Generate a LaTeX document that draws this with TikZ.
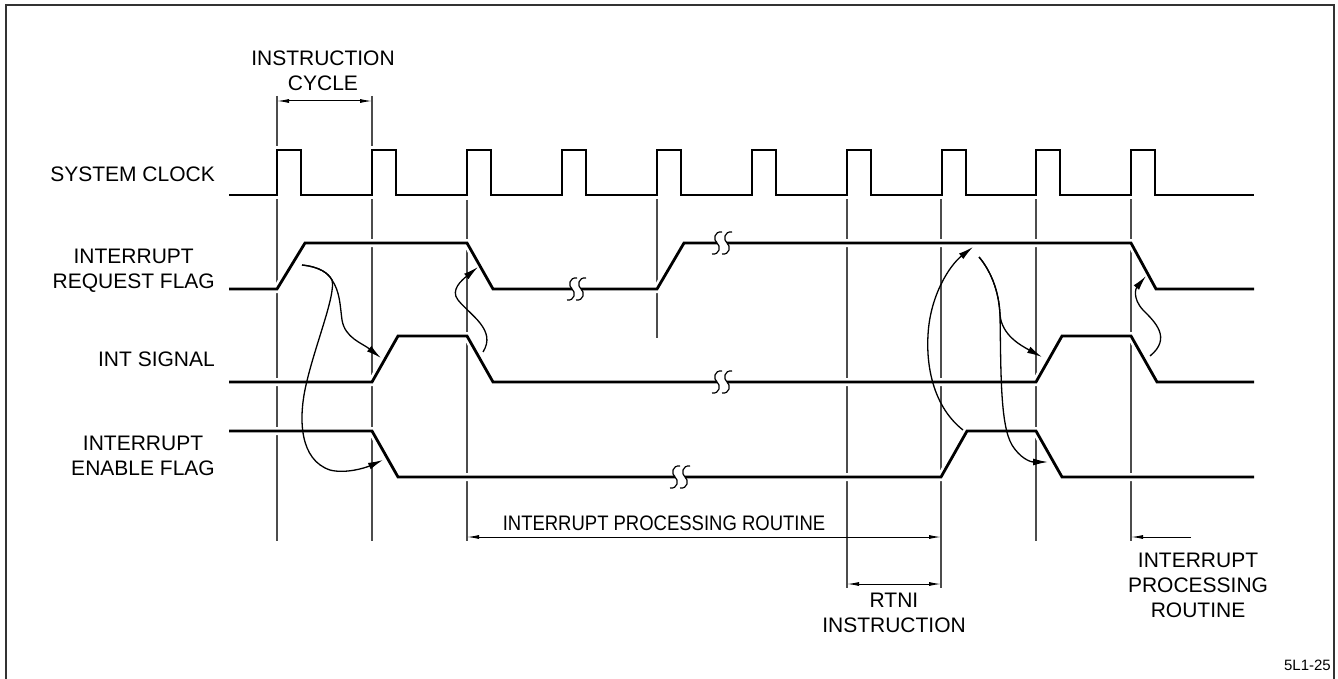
\documentclass[tikz,border=0pt]{standalone}
\usepackage{fontspec}
\setmainfont{Liberation Sans}
\newfontfamily\condfont[FakeStretch=0.88]{Liberation Sans}
\usetikzlibrary{arrows.meta}
\newcommand\sigbreak[2]{%
  \draw[brk] ({#1+5},{#2-11}) .. controls ({#1-3},{#2-12}) and ({#1-4},{#2-3}) .. (#1,#2)
     .. controls ({#1+4},{#2+3}) and ({#1+3},{#2+12}) .. ({#1-5},{#2+11});}
\begin{document}
\begin{tikzpicture}[x=1pt,y=-1pt,
  sig/.style={line width=2.8pt, line join=miter, preaction={draw=white,line width=8pt}},
  gridln/.style={line width=1.1pt, draw=black!70},
  cur/.style={line width=1.3pt, -{Latex[length=15pt,width=7pt]}},
  dim/.style={line width=1pt, {Latex[length=12pt,width=4pt]}-{Latex[length=12pt,width=4pt]}},
  dimr/.style={line width=1pt, -{Latex[length=12pt,width=4pt]}},
  lbl/.style={font=\fontsize{21}{25}\selectfont, inner sep=0pt},
  brk/.style={line width=1.2pt}]
\useasboundingbox (0,0) rectangle (1338,679);
% frame
\draw[line width=1.5pt, black!80] (6,679) -- (6,5) -- (1334,5) -- (1334,679);
% grid lines
\foreach \x/\a/\b in {277/96/541, 372/96/541, 467/200/541, 657/199/338, 847/199/588, 941/199/588, 1036/199/541, 1131/199/541}
  \draw[gridln] (\x,\a) -- (\x,\b);
% labels
\node[lbl, anchor=base east] (sc) at (215,182) {SYSTEM CLOCK};
\node[lbl, anchor=base east] (rf2) at (215,288) {REQUEST FLAG};
\node[lbl, anchor=base] (rf1) at ([yshift=25pt]rf2.base) {INTERRUPT};
\node[lbl, anchor=base east] (is) at (215,366) {INT SIGNAL};
\node[lbl, anchor=base east] (ef2) at (215,475) {ENABLE FLAG};
\node[lbl, anchor=base] (ef1) at ([yshift=25pt]ef2.base) {INTERRUPT};
\node[lbl, anchor=base] (ic2) at (323,91) {CYCLE};
\node[lbl, anchor=base] (ic1) at ([yshift=25pt]ic2.base) {INSTRUCTION};
\node[lbl, anchor=base, font=\condfont\fontsize{21}{25}\selectfont] (ipr) at (664,530) {INTERRUPT PROCESSING ROUTINE};
\node[lbl, anchor=base] (rt1) at (894,607) {RTNI};
\node[lbl, anchor=base] (rt2) at ([yshift=-25pt]rt1.base) {INSTRUCTION};
\node[lbl, anchor=base] (ir1) at (1198,567) {INTERRUPT};
\node[lbl, anchor=base] (ir2) at ([yshift=-25pt]ir1.base) {PROCESSING};
\node[lbl, anchor=base] (ir3) at ([yshift=-25pt]ir2.base) {ROUTINE};
\node[inner sep=0pt, anchor=base east, font=\fontsize{15}{17}\selectfont] (fig) at (1331,670) {5L1-25};
% system clock
\draw[sig] (229,195) foreach \r in {277,372,467,562,657,752,847,942,1036,1131} { -- (\r,195) -- (\r,150) -- ({\r+24},150) -- ({\r+24},195) } -- (1254,195);
% interrupt request flag
\draw[sig] (229,289) -- (277,289) -- (305,243) -- (467,243) -- (493,289) -- (572,289);
\draw[sig] (581,289) -- (657,289) -- (684,243) -- (717,243);
\draw[sig] (727,243) -- (1131,243) -- (1156,289) -- (1254,289);
\sigbreak{572}{289} \sigbreak{581}{289}
\sigbreak{717}{243} \sigbreak{727}{243}
% int signal
\draw[sig] (229,382) -- (372,382) -- (398,336) -- (467,336) -- (493,382) -- (717,382);
\draw[sig] (727,382) -- (1036,382) -- (1062,336) -- (1131,336) -- (1157,382) -- (1254,382);
\sigbreak{717}{382} \sigbreak{727}{382}
% interrupt enable flag
\draw[sig] (229,431) -- (372,431) -- (398,477) -- (675,477);
\draw[sig] (685,477) -- (941,477) -- (967,431) -- (1036,431) -- (1062,477) -- (1254,477);
\sigbreak{675}{477} \sigbreak{685}{477}
% causal arrows
\coordinate (a0) at (302,265);
\coordinate (aJ) at (332,280);
\coordinate (aT) at (381,358);
\coordinate (bT) at (383,460);
\coordinate (cS) at (483,352);
\coordinate (cT) at (478,267);
\coordinate (dS) at (963,430);
\coordinate (dT) at (973,247);
\coordinate (eS) at (979,257);
\coordinate (eJ) at (1000,315);
\coordinate (eT1) at (1042,357);
\coordinate (eT2) at (1048,462);
\coordinate (fS) at (1150,356);
\coordinate (fT) at (1146,276);
\draw[cur] (a0) .. controls (320,267) and (328,273) .. (aJ) .. controls (340,292) and (340,305) .. (342,320) .. controls (345,338) and (362,343) .. (aT);
\draw[cur] (a0) .. controls (320,267) and (328,273) .. (aJ) .. controls (336,295) and (315,345) .. (306,385) .. controls (298,420) and (300,460) .. (330,470) .. controls (345,474) and (365,468) .. (bT);
\draw[cur] (cS) .. controls (497,330) and (470,315) .. (458,300) .. controls (450,290) and (462,280) .. (cT);
\draw[cur] (dS) .. controls (935,408) and (926,370) .. (928,335) .. controls (930,295) and (950,265) .. (dT);
\draw[cur] (eS) .. controls (990,270) and (999,290) .. (eJ) .. controls (1002,335) and (1020,345) .. (eT1);
\draw[cur] (eS) .. controls (990,270) and (999,290) .. (eJ) .. controls (1001,370) and (1000,425) .. (1012,445) .. controls (1020,458) and (1030,462) .. (eT2);
\draw[cur] (fS) .. controls (1172,338) and (1155,322) .. (1143,310) .. controls (1132,298) and (1136,288) .. (fT);
% dimension arrows
\coordinate (ica) at (277,101);
\coordinate (icb) at (372,101);
\coordinate (ipa) at (467,537);
\coordinate (ipb) at (941,537);
\coordinate (rta) at (847,584);
\coordinate (rtb) at (941,584);
\coordinate (ira) at (1191,537);
\coordinate (irb) at (1131,537);
\draw[dim] (ica) -- (icb);
\draw[dim] (ipa) -- (ipb);
\draw[dim] (rta) -- (rtb);
\draw[dimr] (ira) -- (irb);
\end{tikzpicture}
\end{document}
